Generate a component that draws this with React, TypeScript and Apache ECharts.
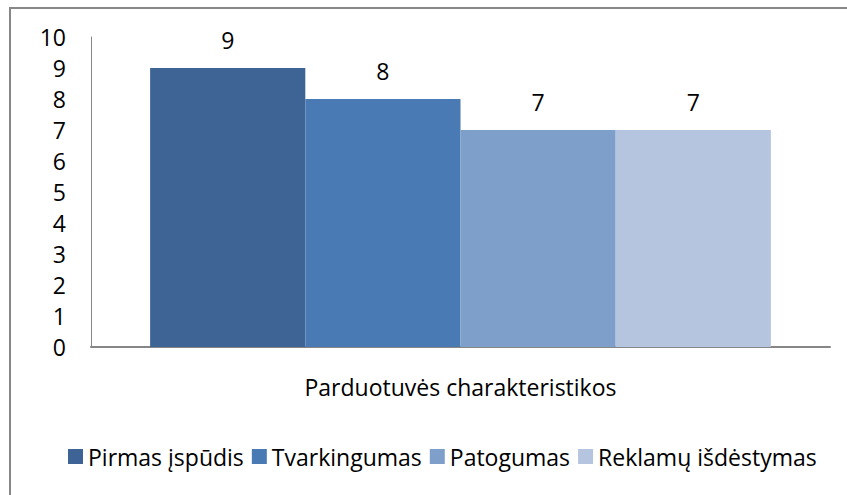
import React, { useEffect, useRef } from "react";
import * as echarts from "echarts";

const categories = ["Parduotuvės charakteristikos"];
const seriesNames = ["Pirmas įspūdis", "Tvarkingumas", "Patogumas", "Reklamų išdėstymas"];
const seriesValues = [[9], [8], [7], [7]];
const seriesColors = ["#3d6494", "#4a7ab4", "#7f9fcb", "#b5c5df"];

const FONT = "Open Sans";

export default function App() {
  const ref = useRef<HTMLDivElement>(null);
  useEffect(() => {
    const chart = echarts.init(ref.current!, null, { renderer: "svg" });
    chart.setOption({
      animation: false,
      textStyle: { fontFamily: FONT, color: "#000" },
      graphic: [
        {
          type: "rect",
          shape: { x: 10, y: 8, width: 850, height: 500 },
          style: { fill: "none", stroke: "#878787", lineWidth: 2 },
          silent: true,
        },
      ],
      legend: {
        top: 440,
        left: 63,
        itemWidth: 15,
        itemHeight: 15,
        itemGap: 8,
        icon: "rect",
        textStyle: { fontFamily: FONT, fontSize: 23, color: "#000" },
        data: seriesNames,
      },
      grid: { left: 91, right: 17, top: 37, bottom: 148, containLabel: false },
      xAxis: {
        type: "category",
        data: categories,
        axisLine: { show: true, lineStyle: { color: "#868686", width: 2 } },
        axisTick: { show: false },
        axisLabel: { fontFamily: FONT, fontSize: 23, color: "#000", margin: 28 },
      },
      yAxis: {
        type: "value",
        min: 0,
        max: 10,
        interval: 1,
        axisLine: { show: true, lineStyle: { color: "#868686", width: 1 } },
        axisTick: { show: false },
        splitLine: { show: false },
        axisLabel: { fontFamily: FONT, fontSize: 23, color: "#000", margin: 25 },
      },
      series: seriesNames.map((name, i) => ({
        name,
        type: "bar",
        data: seriesValues[i],
        barGap: "0%",
        barCategoryGap: "16%",
        itemStyle: { color: seriesColors[i] },
        label: {
          show: true,
          position: "top",
          distance: 17,
          fontFamily: FONT,
          fontSize: 23,
          color: "#000",
        },
      })),
    });
    return () => chart.dispose();
  }, []);
  return (
    <div
      ref={ref}
      style={{ position: "fixed", left: 0, top: 0, width: 847, height: 495, background: "#fff" }}
    />
  );
}
